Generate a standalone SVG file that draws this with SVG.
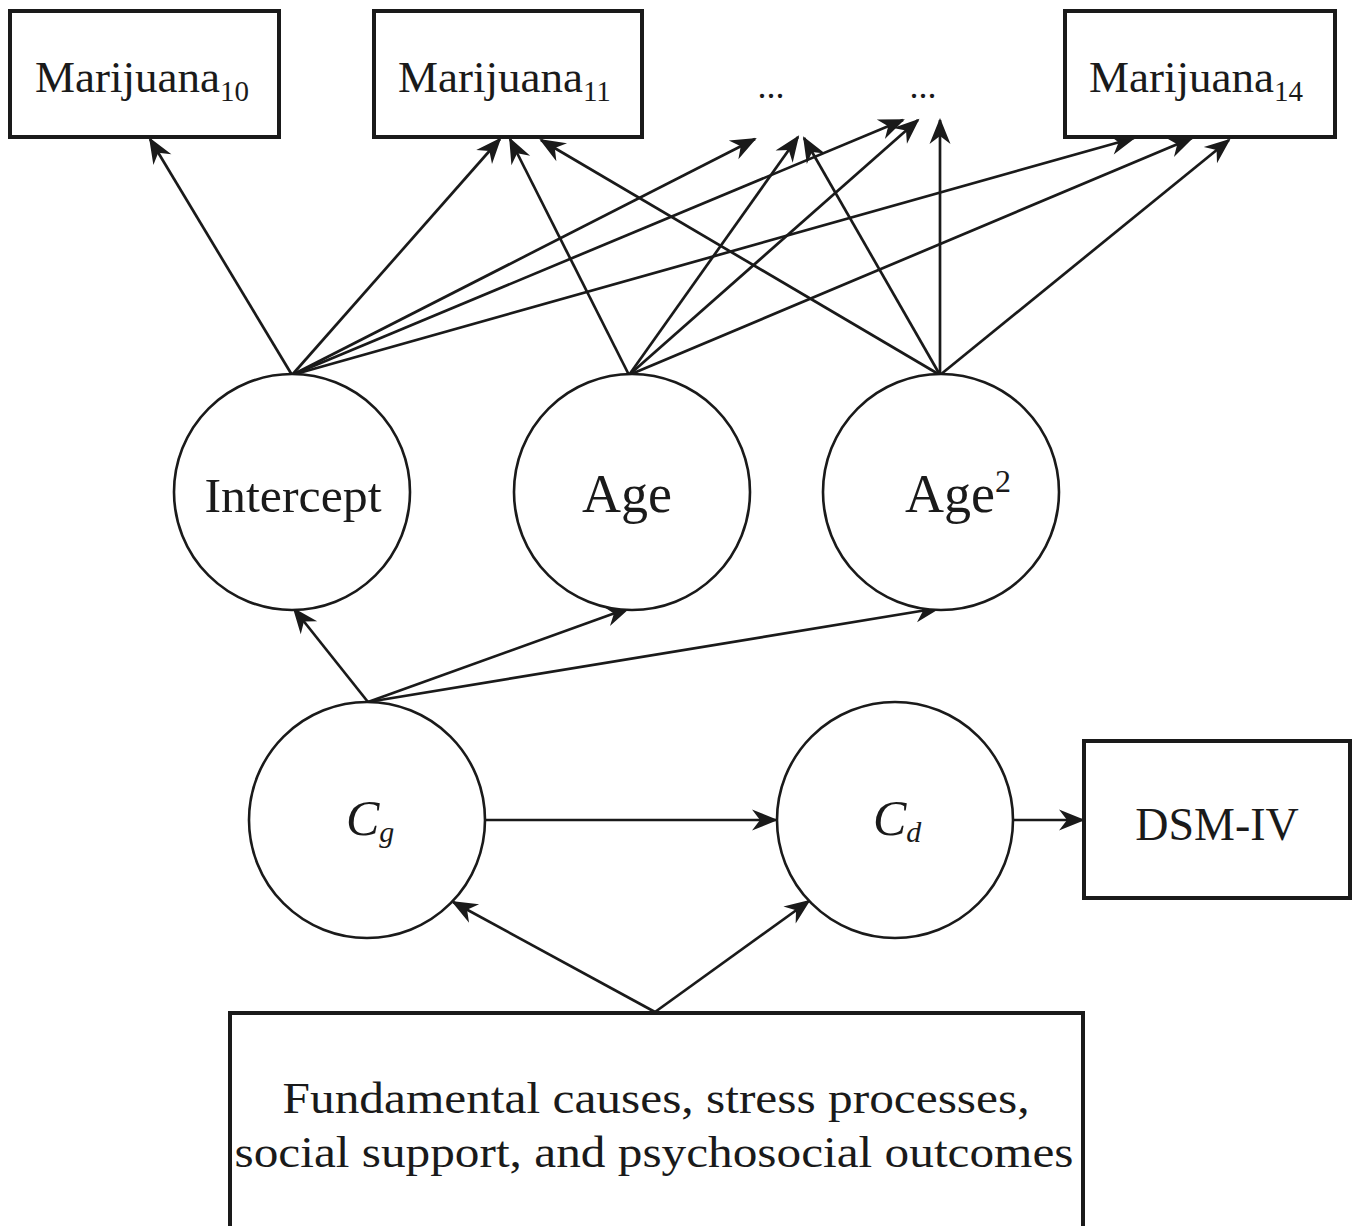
<svg xmlns="http://www.w3.org/2000/svg" width="1360" height="1226" viewBox="0 0 1360 1226">
<style>
.box{fill:#fff;stroke:#1a1a1a;stroke-width:4}
.circ{fill:#fff;stroke:#1a1a1a;stroke-width:2.6}
.t{font-family:"Liberation Serif","DejaVu Serif",serif;fill:#1a1a1a}
.i{font-family:"Liberation Serif","DejaVu Serif",serif;font-style:italic;fill:#1a1a1a}
#edges line{stroke:#1a1a1a;stroke-width:2.7;marker-end:url(#arr)}
</style>
<defs>
<marker id="arr" markerUnits="userSpaceOnUse" viewBox="-27 -13 30 26" refX="0" refY="0" markerWidth="30" markerHeight="26" orient="auto">
<path d="M2,0 L-24,-10.5 L-16,0 L-24,10.5 Z" fill="#1a1a1a"/>
</marker>
</defs>
<rect width="1360" height="1226" fill="#fff"/>
<g id="edges">
<line x1="292" y1="375" x2="150" y2="139"/>
<line x1="292" y1="375" x2="500" y2="139"/>
<line x1="292" y1="375" x2="755" y2="139"/>
<line x1="292" y1="375" x2="903" y2="120"/>
<line x1="292" y1="375" x2="1134" y2="138"/>
<line x1="629" y1="375" x2="510" y2="139"/>
<line x1="629" y1="375" x2="798" y2="137"/>
<line x1="629" y1="375" x2="918" y2="120"/>
<line x1="629" y1="375" x2="1192" y2="138"/>
<line x1="940" y1="375" x2="541" y2="140"/>
<line x1="940" y1="375" x2="804" y2="138"/>
<line x1="940" y1="375" x2="940" y2="120"/>
<line x1="940" y1="375" x2="1229" y2="140"/>
<line x1="368" y1="702" x2="294" y2="609"/>
<line x1="368" y1="702" x2="629" y2="608"/>
<line x1="368" y1="702" x2="939" y2="608"/>
<line x1="486" y1="820" x2="776" y2="820"/>
<line x1="1014" y1="820" x2="1083" y2="820"/>
<line x1="655" y1="1012" x2="453" y2="902"/>
<line x1="655" y1="1012" x2="809" y2="901"/>
</g>
<g id="mar10">
<rect class="box" x="10" y="11" width="269" height="126"/>
<text class="t" x="35" y="92" font-size="45">Marijuana<tspan font-size="29" dy="9">10</tspan></text>
</g>
<g id="mar11">
<rect class="box" x="374" y="11" width="268" height="126"/>
<text class="t" x="398" y="92" font-size="45">Marijuana<tspan font-size="29" dy="9">11</tspan></text>
</g>
<g id="dots1">
<text class="t" x="771" y="98" font-size="36" text-anchor="middle">...</text>
</g>
<g id="dots2">
<text class="t" x="923" y="98" font-size="36" text-anchor="middle">...</text>
</g>
<g id="mar14">
<rect class="box" x="1065" y="11" width="270" height="126"/>
<text class="t" x="1089" y="92" font-size="45">Marijuana<tspan font-size="29" dy="9">14</tspan></text>
</g>
<g id="intercept">
<circle class="circ" cx="292" cy="492" r="118"/>
<text class="t" x="293" y="512" font-size="48" text-anchor="middle" textLength="177" lengthAdjust="spacingAndGlyphs">Intercept</text>
</g>
<g id="age">
<circle class="circ" cx="632" cy="492" r="118"/>
<text class="t" x="627" y="512" font-size="54" text-anchor="middle">Age</text>
</g>
<g id="age2">
<circle class="circ" cx="941" cy="492" r="118"/>
<text class="t" x="905" y="512" font-size="54">Age<tspan font-size="32" dy="-20">2</tspan></text>
</g>
<g id="cg">
<circle class="circ" cx="367" cy="820" r="118"/>
<text class="i" x="346" y="835" font-size="50">C<tspan font-size="30" dy="7">g</tspan></text>
</g>
<g id="cd">
<circle class="circ" cx="895" cy="820" r="118"/>
<text class="i" x="873" y="835" font-size="50">C<tspan font-size="30" dy="7">d</tspan></text>
</g>
<g id="dsm">
<rect class="box" x="1084" y="741" width="266" height="157"/>
<text class="t" x="1217" y="840" font-size="46" text-anchor="middle">DSM-IV</text>
</g>
<g id="causes">
<rect class="box" x="230" y="1013" width="853" height="240"/>
<text class="t" x="656" y="1113" font-size="44" text-anchor="middle" textLength="747" lengthAdjust="spacingAndGlyphs">Fundamental causes, stress processes,</text>
<text class="t" x="654" y="1167" font-size="44" text-anchor="middle" textLength="839" lengthAdjust="spacingAndGlyphs">social support, and psychosocial outcomes</text>
</g>
</svg>
